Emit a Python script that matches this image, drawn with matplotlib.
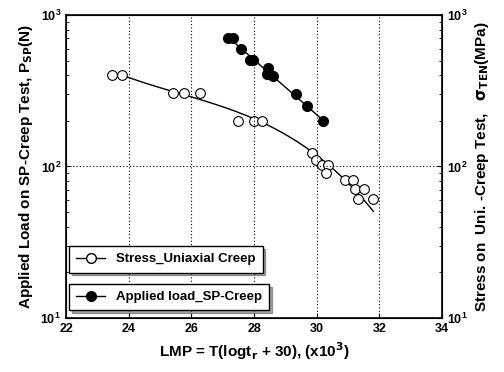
import numpy as np
import matplotlib
matplotlib.use("Agg")
import matplotlib.pyplot as plt

plt.rcParams["font.family"] = ["Liberation Sans", "DejaVu Sans"]
plt.rcParams["font.weight"] = "bold"
plt.rcParams["mathtext.default"] = "bf"

# Stress_Uniaxial Creep (open circles)
uni_lmp = [23.47, 23.79, 25.42, 25.77, 26.28, 27.5, 28.0, 28.25, 29.84, 29.98,
           30.16, 30.35, 30.3, 30.9, 31.17, 31.22, 31.51, 31.31, 31.79]
uni_stress = [403, 403, 303, 303, 303, 201, 201, 201, 123, 111,
              101.5, 101.5, 91, 82, 82, 70.5, 71, 61, 61]
# fitted curve for uniaxial data
uni_fit_lmp = [23.94, 26.0, 28.0, 30.0, 31.0, 31.81]
uni_fit_val = [390, 288, 207, 116, 80, 50]

# Applied load_SP-Creep (filled circles)
sp_lmp = [27.18, 27.32, 27.6, 27.87, 27.98, 28.46, 28.4, 28.6, 29.33, 29.68, 30.21]
sp_load = [705, 705, 598, 501, 501, 447, 409, 395, 299, 251, 198]

fig = plt.figure(figsize=(5.04, 3.72), dpi=100)
ax = fig.add_axes([0.131, 0.145, 0.746, 0.815])

# smooth curve through uniaxial fit points (log space)
xs = np.linspace(uni_fit_lmp[0], uni_fit_lmp[-1], 100)
c = np.polyfit(uni_fit_lmp, np.log10(uni_fit_val), 3)
ax.plot(xs, 10 ** np.polyval(c, xs), "k-", lw=1)
ax.plot(uni_lmp, uni_stress, "o", mfc="white", mec="black", ms=7, mew=0.8)

xs2 = np.linspace(min(sp_lmp), max(sp_lmp), 100)
c2 = np.polyfit(sp_lmp, np.log10(sp_load), 2)
ax.plot(xs2, 10 ** np.polyval(c2, xs2), "k-", lw=1)
ax.plot(sp_lmp, sp_load, "o", mfc="black", mec="black", ms=7)

ax.set_yscale("log")
ax.set_xlim(22, 34)
ax.set_ylim(10, 1000)
ax.set_xticks(np.arange(22, 35, 2))
for x in range(24, 34, 2):
    ax.axvline(x, color="black", ls=(0, (1, 2)), lw=0.8)
ax.axhline(100, color="black", ls=(0, (1, 2)), lw=0.8)
ax.tick_params(which="both", direction="in", labelsize=9)
ax.tick_params(which="both", right=True)
for s in ax.spines.values():
    s.set_linewidth(1.2)

ax.set_xlabel("LMP = T(logt$_{\\mathrm{r}}$ + 30), (x10$^{\\mathrm{3}}$)", fontsize=11, fontweight="bold")
ax.set_ylabel("Applied Load on SP-Creep Test, P$_{\\mathrm{SP}}$(N)", fontsize=11, fontweight="bold")

ax2 = ax.twinx()
ax2.set_yscale("log")
ax2.set_ylim(10, 1000)
ax2.tick_params(which="both", direction="in", labelsize=9)
ax2.set_ylabel("Stress on  Uni. -Creep Test,   $\\sigma_{\\mathrm{TEN}}$(MPa)", fontsize=11, fontweight="bold")

h1, = ax.plot([], [], "k-o", mfc="white", mec="black", ms=7, lw=1)
h2, = ax.plot([], [], "k-o", mfc="black", ms=7, lw=1)
leg1 = ax.legend([h1], ["Stress_Uniaxial Creep"], loc="lower left", bbox_to_anchor=(0.008, 0.15),
                 fancybox=False, shadow=True, edgecolor="black", fontsize=9.5, handlelength=2.2,
                 borderaxespad=0.0, borderpad=0.55)
leg1.get_frame().set_linewidth(1.0)
ax.add_artist(leg1)
leg2 = ax.legend([h2], ["Applied load_SP-Creep"], loc="lower left", bbox_to_anchor=(0.008, 0.025),
                 fancybox=False, shadow=True, edgecolor="black", fontsize=9.5, handlelength=2.2,
                 borderaxespad=0.0, borderpad=0.55)
leg2.get_frame().set_linewidth(1.0)

fig.savefig("out.png", dpi=100)
